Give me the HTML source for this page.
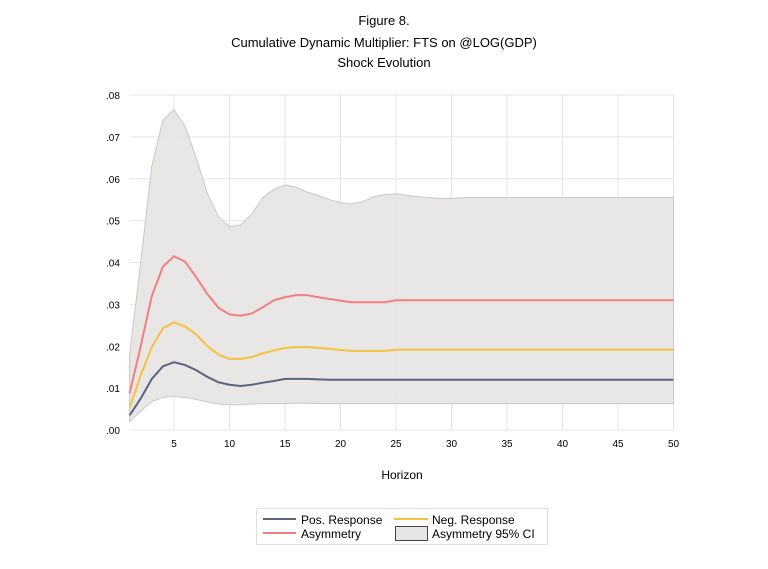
<!DOCTYPE html>
<html><head><meta charset="utf-8"><style>
body{margin:0;background:#fff;font-family:"Liberation Sans",sans-serif;}
svg text{font-family:"Liberation Sans",sans-serif;fill:#000;}
</style></head><body>
<svg id="chart" width="768" height="564" xmlns="http://www.w3.org/2000/svg">
<text x="384" y="25" font-size="13" text-anchor="middle">Figure 8.</text>
<text x="384" y="47" font-size="13" text-anchor="middle">Cumulative Dynamic Multiplier: FTS on @LOG(GDP)</text>
<text x="384" y="67" font-size="13" text-anchor="middle">Shock Evolution</text>
<g id="grid"></g>
<g id="plot"></g>
<g id="axes"></g>
<text x="402" y="479" font-size="12" text-anchor="middle">Horizon</text>
<g>
<rect x="256.5" y="508.5" width="291" height="36" fill="#fff" stroke="#e0e0e0"/>
<line x1="263" y1="519" x2="296" y2="519" stroke="#5a6480" stroke-width="2"/>
<text x="301" y="524" font-size="12">Pos. Response</text>
<line x1="394" y1="519" x2="428" y2="519" stroke="#f4c240" stroke-width="2"/>
<text x="432" y="524" font-size="12">Neg. Response</text>
<line x1="263" y1="533" x2="296" y2="533" stroke="#f08080" stroke-width="2"/>
<text x="301" y="538" font-size="12">Asymmetry</text>
<rect x="395.5" y="526.5" width="32" height="14" fill="#e8e6e4" stroke="#444"/>
<text x="432" y="538" font-size="12">Asymmetry 95% CI</text>
</g>
</svg>
<script>
const upper=[.018,.040,.063,.074,.0765,.0725,.065,.0565,.051,.0485,.049,.0515,.0555,.0575,.0585,.058,.0568,.056,.055,.0543,.054,.0545,.0557,.0562,.0564,.056,.0557,.0555,.0553,.0553,.0555,.0555,.0555,.0555,.0555,.0555,.0555,.0555,.0555,.0555,.0555,.0555,.0555,.0555,.0555,.0555,.0555,.0555,.0555,.0555];
const lower=[.002,.0045,.0068,.0078,.008,.0078,.0073,.0067,.0062,.006,.006,.0062,.0063,.0063,.0063,.0064,.0064,.0063,.0063,.0063,.0063,.0063,.0063,.0063,.0063,.0063,.0063,.0063,.0063,.0063,.0063,.0063,.0063,.0063,.0063,.0063,.0063,.0063,.0063,.0063,.0063,.0063,.0063,.0063,.0063,.0063,.0063,.0063,.0063,.0063];
const asym=[.0087,.020,.032,.039,.0415,.0402,.0365,.0325,.0292,.0276,.0273,.0278,.0293,.031,.0317,.0322,.0322,.0317,.0313,.0309,.0305,.0305,.0305,.0305,.031,.031,.031,.031,.031,.031,.031,.031,.031,.031,.031,.031,.031,.031,.031,.031,.031,.031,.031,.031,.031,.031,.031,.031,.031,.031];
const neg=[.0053,.013,.0198,.0243,.0257,.0247,.0228,.0201,.018,.017,.017,.0174,.0183,.019,.0196,.0198,.0198,.0196,.0194,.0191,.0189,.0189,.0189,.0189,.0192,.0192,.0192,.0192,.0192,.0192,.0192,.0192,.0192,.0192,.0192,.0192,.0192,.0192,.0192,.0192,.0192,.0192,.0192,.0192,.0192,.0192,.0192,.0192,.0192,.0192];
const pos=[.0035,.0075,.0122,.0152,.0162,.0155,.0143,.0127,.0114,.0108,.0105,.0108,.0113,.0117,.0122,.0122,.0122,.0121,.012,.012,.012,.012,.012,.012,.012,.012,.012,.012,.012,.012,.012,.012,.012,.012,.012,.012,.012,.012,.012,.012,.012,.012,.012,.012,.012,.012,.012,.012,.012,.012];
const yTicks=[0,.01,.02,.03,.04,.05,.06,.07,.08];
const yTickLabels=[".00",".01",".02",".03",".04",".05",".06",".07",".08"];
const xTicks=[5,10,15,20,25,30,35,40,45,50];

const X=h=>129.6+(h-1)*(673.5-129.6)/49;
const Y=v=>430-v*(430-95)/0.08;
const NS="http://www.w3.org/2000/svg";
function mk(parent,tag,attrs){const e=document.createElementNS(NS,tag);for(const k in attrs)e.setAttribute(k,attrs[k]);document.getElementById(parent).appendChild(e);return e;}
yTicks.forEach((v,i)=>{
 const l=mk('grid','line',{x1:129.6,x2:673.5,y1:Y(v),y2:Y(v),stroke:'#e4e4e4','stroke-width':1});
 
 
 const t=mk('axes','text',{x:106,y:Y(v)+4,'font-size':10});
 t.textContent=yTickLabels[i];
 
 
});
xTicks.forEach(h=>{
 const l=mk('grid','line',{x1:X(h),x2:X(h),y1:95,y2:430,stroke:'#e4e4e4','stroke-width':1});
 
 
 const t=mk('axes','text',{x:X(h),y:447,'font-size':10,'text-anchor':'middle'});
 t.textContent=h;
 
 
});
let d='';upper.forEach((v,i)=>{d+=(i?'L':'M')+X(i+1)+','+Y(v);});
for(let i=lower.length-1;i>=0;i--)d+='L'+X(i+1)+','+Y(lower[i]);
const band=mk('plot','path',{d:d+'Z',fill:'#e8e6e4',stroke:'#c8c8c8','stroke-width':1,'fill-opacity':0.95});


function line(arr,color,name){
 const p=mk('plot','polyline',{points:arr.map((v,i)=>X(i+1)+','+Y(v)).join(' '),fill:'none',stroke:color,'stroke-width':2});
 
 
}
line(asym,'#f08080','asymmetry-line');
line(neg,'#f4c240','neg-response-line');
line(pos,'#5a6480','pos-response-line');
</script>
</body></html>
